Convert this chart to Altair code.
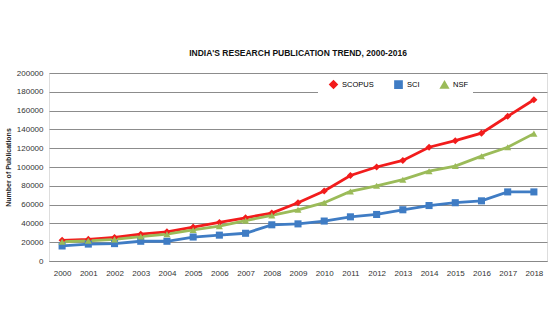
import altair as alt
import pandas as pd

years = [str(y) for y in range(2000, 2019)]
scopus = [22000, 23000, 25000, 28500, 31000, 36000, 41000, 46000, 51000, 62000, 74500, 91000, 100000, 107000, 121000, 128000, 136000, 154000, 171500]
sci = [16000, 18000, 18500, 21000, 21000, 25500, 27500, 29500, 38500, 39500, 42500, 47000, 49500, 54500, 59000, 62000, 64000, 73500, 73500]
nsf = [20500, 21500, 23000, 26000, 28500, 33000, 37000, 43000, 48500, 54500, 62000, 74000, 80000, 86500, 95500, 101000, 111500, 121000, 135500]
series = ["SCOPUS", "SCI", "NSF"]
colors = ["#f21c1c", "#3f7cc4", "#9bbb59"]
shapes = ["diamond", "square", "triangle-up"]

rows = []
for name, vals in zip(series, [scopus, sci, nsf]):
    for y, v in zip(years, vals):
        rows.append({"Year": y, "Value": v, "Series": name})
df = pd.DataFrame(rows)

x = alt.X("Year:O", sort=years, title=None,
          scale=alt.Scale(type="point", padding=0.5),
          axis=alt.Axis(labelAngle=0, labelFontSize=8, labelColor="#333333", ticks=False,
                        domainColor="#888888", labelPadding=8, grid=False))
y = alt.Y("Value:Q", title="Number of Publications",
          scale=alt.Scale(domain=[0, 200000]),
          axis=alt.Axis(values=list(range(0, 200001, 20000)), format="d", labelFontSize=8,
                        labelColor="#333333", titleFontSize=7, titleFontWeight="bold",
                        titleColor="#222222", ticks=False, domain=False, gridColor="#8c8c8c",
                        gridWidth=1, titlePadding=5, labelPadding=6))
color = alt.Color("Series:N", sort=series,
                  scale=alt.Scale(domain=series, range=colors),
                  legend=alt.Legend(title=None, orient="none", legendX=269, legendY=2,
                                    direction="horizontal", padding=5, fillColor="#ffffff",
                                    labelFontSize=7.5, symbolSize=45, columnPadding=14,
                                    symbolStrokeWidth=2, symbolOffset=6, zindex=5))
shape = alt.Shape("Series:N", sort=series, scale=alt.Scale(domain=series, range=shapes),
                  legend=None)

lines = alt.Chart(df).mark_line(strokeWidth=2.8).encode(
    x=x, y=y, color=color, detail="Series:N")
points = alt.Chart(df).mark_point(filled=True, size=50, opacity=1).encode(
    x=x, y=y, color=color, shape=shape)

chart = alt.layer(lines, points).properties(
    width=498, height=188,
    title=alt.TitleParams("INDIA'S RESEARCH PUBLICATION TREND, 2000-2016", fontSize=8.5,
                          fontWeight="bold", color="#111111", offset=12, anchor="middle"),
    autosize=alt.AutoSizeParams(type="none"),
    padding={"left": 49, "top": 73, "right": 8, "bottom": 71},
    background="white",
).configure_view(fill="#d9d9d9", stroke="#8c8c8c").configure(font="Liberation Sans")

chart.save("out.html", embed_options={"renderer": "svg", "actions": False})
